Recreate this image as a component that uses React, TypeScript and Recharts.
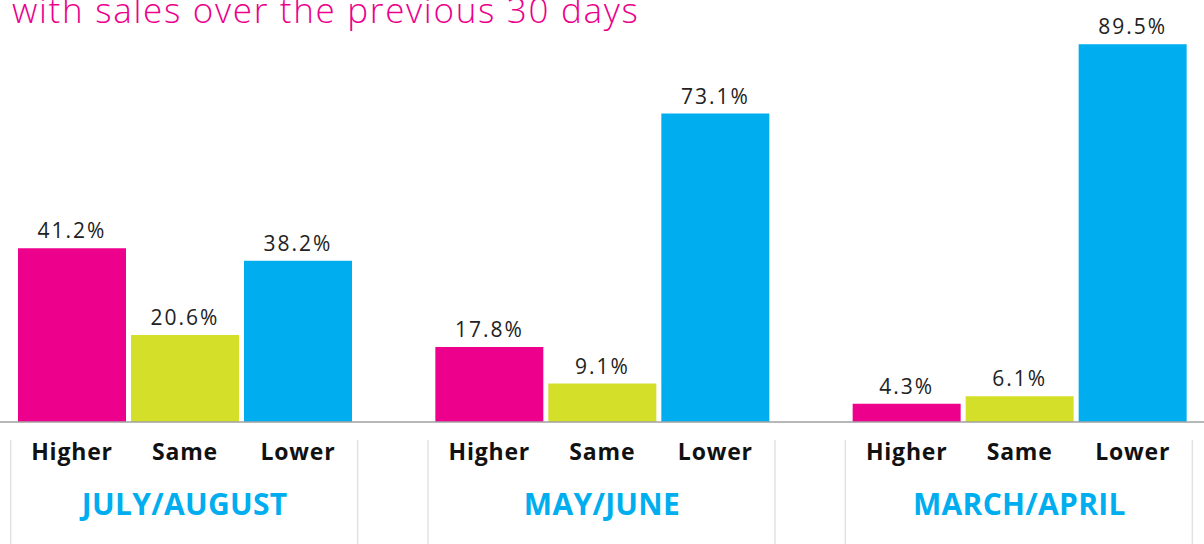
import React from "react";
import {BarChart, Bar, XAxis, YAxis, LabelList} from "recharts";

const periods = ["JULY/AUGUST", "MAY/JUNE", "MARCH/APRIL"];
const higher = [41.2, 17.8, 4.3];
const same = [20.6, 9.1, 6.1];
const lower = [38.2, 73.1, 89.5];
const seriesNames = ["Higher", "Same", "Lower"];

const data = periods.map((p, i) => ({
    period: p,
    Higher: higher[i],
    Same: same[i],
    Lower: lower[i]
}));

const colors = ["#EC008C", "#D4DF2A", "#00AEEF"];
const font = "'Open Sans', 'Noto Sans', sans-serif";

const GroupTick = ({x, y, payload}: any) => {
    return <g>
        <line x1={x - 174} x2={x - 174} y1={y + 18} y2={y + 130} stroke="#e2e2e2" strokeWidth={1.5}/>
        <line x1={x + 173} x2={x + 173} y1={y + 18} y2={y + 130} stroke="#e2e2e2" strokeWidth={1.5}/>
        <text x={x} y={y + 93} textAnchor="middle" fill="#00AEEF" fontSize={30} fontWeight={700}
              fontFamily={font} letterSpacing={0.3}>{payload.value}</text>
    </g>
}

const nameLabel = (name: string) => (p: any) =>
    <text x={p.x + p.width / 2} y={p.y + p.height + 38} textAnchor="middle" fill="#111"
          fontSize={23} fontWeight={700} fontFamily={font} letterSpacing={0.8}>{name}</text>

export default function App() {
    return <div style={{position: "absolute", left: 0, top: 0, width: 1204, height: 544, overflow: "hidden", background: "#fff"}}>
        <div style={{
            position: "absolute", left: 12, top: -14, color: "#EC008C", fontSize: 35,
            fontFamily: font, fontWeight: 300, whiteSpace: "nowrap", lineHeight: "48px",
            letterSpacing: 1.7, zIndex: 2
        }}>with sales over the previous 30 days
        </div>
        <div style={{position: "absolute", left: -24, top: 0}}>
            <BarChart width={1252} height={544} data={data} barSize={108} barGap={5}
                      margin={{top: 0, right: 0, bottom: 0, left: 0}}>
                <XAxis dataKey="period" height={122} tickLine={false} tickSize={0} tickMargin={0}
                       axisLine={{stroke: "#a0a0a0", strokeWidth: 1.5}} tick={<GroupTick/>} interval={0}/>
                <YAxis hide domain={[0, 100]}/>
                {seriesNames.map((s, i) =>
                    <Bar key={s} dataKey={s} fill={colors[i]} isAnimationActive={false}>
                        <LabelList dataKey={s} position="top" offset={10} formatter={(v: any) => `${v}%`}
                                   fill="#222" fontSize={21} fontFamily={font} letterSpacing={2}/>
                        <LabelList dataKey={s} content={nameLabel(s)}/>
                    </Bar>
                )}
            </BarChart>
        </div>
    </div>
}
